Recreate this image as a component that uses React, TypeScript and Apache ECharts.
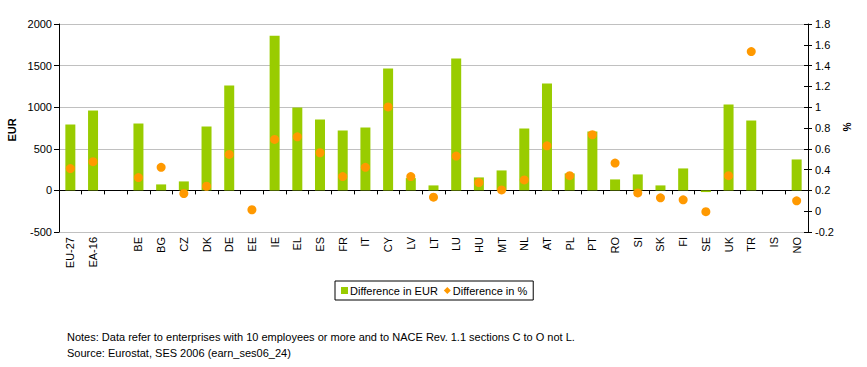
import React, { useEffect, useRef } from "react";
import * as echarts from "echarts";

const categories = ["EU-27", "EA-16", "", "BE", "BG", "CZ", "DK", "DE", "EE", "IE", "EL", "ES", "FR", "IT", "CY", "LV", "LT", "LU", "HU", "MT", "NL", "AT", "PL", "PT", "RO", "SI", "SK", "FI", "SE", "UK", "TR", "IS", "NO"];
const diffEur: (number | null)[] = [792, 960, null, 804, 72, 108, 768, 1260, null, 1860, 996, 852, 720, 756, 1464, 148, 60, 1584, 156, 240, 744, 1284, 204, 708, 132, 192, 60, 264, -20, 1032, 840, null, 372];
const diffPct: (number | null)[] = [0.41, 0.476, null, 0.323, 0.422, 0.17, 0.24, 0.546, 0.014, 0.69, 0.715, 0.562, 0.333, 0.422, 1.003, 0.333, 0.135, 0.53, 0.275, 0.205, 0.301, 0.629, 0.342, 0.735, 0.463, 0.176, 0.129, 0.109, -0.005, 0.342, 1.535, null, 0.1];
const notes = [
  "Notes: Data refer to enterprises with 10 employees or more and to NACE Rev. 1.1 sections C to O not L.",
  "Source: Eurostat, SES 2006 (earn_ses06_24)",
];

const FONT = "Liberation Sans";

export default function App() {
  const ref = useRef<HTMLDivElement>(null);
  useEffect(() => {
    if (!ref.current) return;
    const chart = echarts.init(ref.current, null, { renderer: "svg" });
    const grid = { left: 59, right: 59, top: 24, bottom: 135 };
    chart.setOption({
      animation: false,
      backgroundColor: "#ffffff",
      textStyle: { fontFamily: FONT, fontSize: 11, color: "#000" },
      grid,
      legend: {
        left: 335,
        top: 281,
        width: 194,
        padding: [4, 6, 4, 6],
        borderColor: "#000",
        borderWidth: 1,
        itemWidth: 7,
        itemHeight: 7,
        itemGap: 6,
        textStyle: { fontFamily: FONT, fontSize: 11, color: "#000", padding: [0, 0, 0, -3] },
        data: [
          { name: "Difference in EUR", icon: "rect" },
          { name: "Difference in %", icon: "diamond" },
        ],
      },
      xAxis: [
        {
          type: "category",
          data: categories,
          position: "bottom",
          axisLine: { show: false, onZero: false },
          axisTick: { show: false },
          axisLabel: { rotate: 90, margin: 5, fontFamily: FONT, fontSize: 11, color: "#000", interval: 0 },
          splitLine: { show: false },
        },
        {
          type: "category",
          data: categories,
          position: "bottom",
          axisLine: { show: true, onZero: true, onZeroAxisIndex: 0, lineStyle: { color: "#000", width: 1 } },
          axisTick: { show: true, length: 4, interval: 0, lineStyle: { color: "#000" } },
          axisLabel: { show: false },
          splitLine: { show: false },
        },
      ],
      yAxis: [
        {
          type: "value",
          min: -500,
          max: 2000,
          interval: 500,
          position: "left",
          axisLine: { show: true, lineStyle: { color: "#000" } },
          axisTick: { show: true, length: 5, lineStyle: { color: "#000" } },
          axisLabel: { margin: 7, fontFamily: FONT, fontSize: 11, color: "#000", formatter: (v: number) => String(v) },
          splitLine: { show: true, lineStyle: { color: "#C0C0C0", width: 1 } },
        },
        {
          type: "value",
          min: -0.2,
          max: 1.8,
          interval: 0.2,
          position: "right",
          axisLine: { show: true, onZero: false, lineStyle: { color: "#000" } },
          axisTick: { show: true, length: 4, lineStyle: { color: "#000" } },
          axisLabel: {
            margin: 7,
            fontFamily: FONT,
            fontSize: 11,
            color: "#000",
            formatter: (v: number) => String(Math.round(v * 10) / 10),
          },
          splitLine: { show: false },
        },
        {
          type: "value",
          min: -0.2,
          max: 1.8,
          interval: 0.2,
          position: "right",
          axisLine: { show: false, onZero: false },
          axisTick: { show: true, inside: true, length: 4, lineStyle: { color: "#000" } },
          axisLabel: { show: false },
          splitLine: { show: false },
        },
      ],
      series: [
        {
          name: "Difference in EUR",
          type: "bar",
          xAxisIndex: 0,
          yAxisIndex: 0,
          data: diffEur.map((v) => (v === null ? "-" : v)),
          barWidth: 10,
          itemStyle: { color: "#99CC00" },
        },
        {
          name: "Difference in %",
          type: "scatter",
          xAxisIndex: 0,
          yAxisIndex: 1,
          data: diffPct.map((v) => (v === null ? "-" : v)),
          symbol: "circle",
          symbolSize: 9,
          itemStyle: { color: "#FF9900", opacity: 1 },
          z: 5,
        },
      ],
      graphic: [
        {
          type: "text",
          x: 12,
          y: 130,
          rotation: Math.PI / 2,
          style: { text: "EUR", fontFamily: FONT, fontSize: 11, fontWeight: "bold", fill: "#000", align: "center", verticalAlign: "middle" },
        },
        {
          type: "text",
          x: 846,
          y: 127,
          rotation: -Math.PI / 2,
          style: { text: "%", fontFamily: FONT, fontSize: 10, fontWeight: "bold", fill: "#000", align: "center", verticalAlign: "middle" },
        },
        {
          type: "text",
          x: 67,
          y: 337,
          style: { text: notes[0], fontFamily: FONT, fontSize: 11, fill: "#000", align: "left", verticalAlign: "middle" },
        },
        {
          type: "text",
          x: 67,
          y: 353,
          style: { text: notes[1], fontFamily: FONT, fontSize: 11, fill: "#000", align: "left", verticalAlign: "middle" },
        },
      ],
    });
    return () => chart.dispose();
  }, []);
  return <div ref={ref} style={{ position: "fixed", left: 0, top: 0, width: 867, height: 367 }} />;
}
